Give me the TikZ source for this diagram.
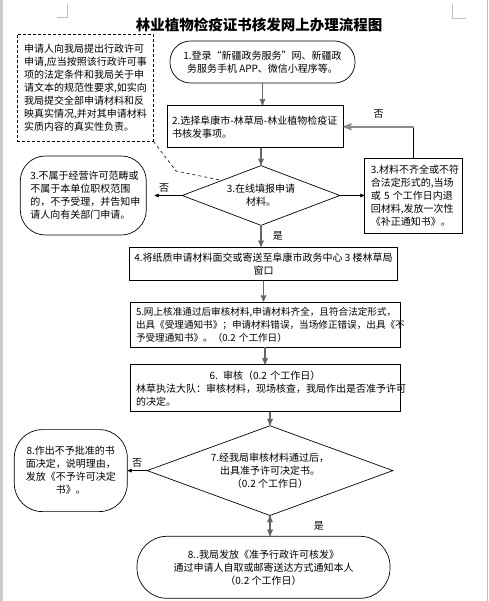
\documentclass[tikz,border=0pt]{standalone}
\usepackage{fontspec}
\setmainfont{Noto Sans CJK SC}
\usetikzlibrary{arrows, positioning, shapes.geometric}

\begin{document}
\begin{tikzpicture}[x=1pt, y=-1pt, >=stealth', auto,
    font=\fontsize{10}{13}\selectfont,
    box/.style={draw, line width=0.8pt, rectangle, inner xsep=5pt, inner ysep=2pt, align=left},
    roundbox/.style={draw, line width=0.7pt, rectangle, inner sep=2pt, align=center},
    check/.style={draw, line width=0.7pt, diamond, inner sep=0pt, align=center},
    note/.style={draw, densely dashed, line width=0.9pt, rectangle, inner xsep=7pt, inner ysep=2pt, align=left},
    flow/.style={->, draw=black!60, line width=1.3pt},
    link/.style={->, line width=0.6pt}]

    \useasboundingbox (0,0) rectangle (488,601);

    %define the page edges
    \fill[black!20] (0,0) rectangle (2.5,601);
    \draw[black!25] (487,0) -- (487,601);
    \draw[black!25] (67,4) -- (67,17) -- (57,17);
    \draw[black!25] (452,4) -- (452,18) -- (466,18);

    %define the title and the steps
    \node[font=\fontsize{14.5}{16}\selectfont\bfseries] (title) at (259,25) {林业植物检疫证书核发网上办理流程图};
    \node[note, text width=122pt, minimum height=107pt] (req) at (85,87.5) {申请人向我局提出行政许可\\申请,应当按照该行政许可事\\项的法定条件和我局关于申\\请文本的规范性要求,如实向\\我局提交全部申请材料和反\\映真实情况,并对其申请材料\\实质内容的真实性负责。};
    \node[roundbox, rounded corners=20.5pt, minimum width=185pt, minimum height=42pt] (b1) at (262.5,62) {1.登录“新疆政务服务”网、新疆政\\务服务手机 APP、微信小程序等。};
    \node[box, text width=166pt, minimum height=42pt] (b2) [below=22pt of b1, xshift=-7.5pt] {2.选择阜康市-林草局-林业植物检疫证\\书核发事项。};
    \node[check, minimum width=158pt, minimum height=60pt, aspect=2.6] (d3) [below=17pt of b2, xshift=6pt] {3.在线填报申请\\材料。};
    \node[box, text width=86pt, minimum height=75pt, inner xsep=6pt] (b3r) [right=24pt of d3] {3.材料不齐全或不符\\合法定形式的,当场\\或~5~个工作日内退\\回材料,发放一次性\\《补正通知书》。};
    \node[roundbox, rounded corners=25pt, text width=106pt, minimum height=79pt, inner xsep=10pt, align=left] (b3l) [left=35pt of d3] {3.不属于经营许可范畴或\\不属于本单位职权范围\\的，不予受理，并告知申\\请人向有关部门申请。};
    \node[box, minimum width=262pt, minimum height=33pt, align=center] (b4) [below=21pt of d3, xshift=2.5pt] {4.将纸质申请材料面交或寄送至阜康市政务中心 3 楼林草局\\窗口};
    \node[box, text width=258pt, minimum height=45pt, inner xsep=6pt, font=\fontsize{9.6}{13}\selectfont] (b5) [below=21pt of b4, xshift=1.5pt] {5.网上核准通过后审核材料,申请材料齐全，且符合法定形式，\\出具《受理通知书》；申请材料错误，当场修正错误，出具《不\\予受理通知书》。（0.2~个工作日）};
    \node[box, text width=258pt, minimum height=47pt, inner xsep=6pt] (b6) [below=17pt of b5] {\makebox[\linewidth]{6. 审核（0.2 个工作日）}\\林草执法大队：审核材料，现场核查，我局作出是否准予许可\\的决定。};
    \node[check, minimum width=246pt, minimum height=90pt, aspect=2.7] (d7) [below=13pt of b6, xshift=5pt] {7.经我局审核材料通过后，\\出具准予许可决定书。\\（0.2 个工作日）};
    \node[roundbox, rounded corners=28pt, text width=105pt, minimum height=82pt, inner xsep=4pt] (b8l) [left=19pt of d7] {8.作出不予批准的书\\面决定，说明理由，\\发放《不予许可决定\\书》。};
    \node[roundbox, rounded corners=30pt, minimum width=253pt, minimum height=62pt] (b9) [below=20pt of d7, xshift=-6.5pt] {8..我局发放《准予行政许可核发》\\通过申请人自取或邮寄送达方式通知本人\\（0.2 个工作日）};

    %define the links
    \path[flow] (b1.south) edge (b1.south |- b2.north)
    (b2.south -| d3.north) edge (d3.north)
    (d3.south) edge node[right, xshift=8pt] {是} (d3.south |- b4.north)
    (b4.south) edge (b4.south |- b5.north)
    (b5.south) edge (b5.south |- b6.north)
    (b6.south -| d7.north) edge (d7.north)
    (d7.south) edge node[right, xshift=40pt] {是} (d7.south |- b9.north);
    \path[link] (d3.east) edge (d3.east -| b3r.west)
    (d3.west) edge[shorten >=8pt] node[above] {否} (d3.west -| b3l.east)
    (d7.west) edge node[above] {否} (d7.west -| b8l.east);

    \coordinate (c3) at (b3r.north |- b2.east);
    \draw[line width=0.6pt] (b3r.north) -- (c3);
    \draw[flow, draw=black!45, line width=1.8pt] (c3) -- node[above, yshift=4pt] {否} (b2.east);

    \coordinate (k1) at (176,171);
    \draw[dashed, line width=0.6pt] (req.south east) -- (k1) -- (d3.north west);
\end{tikzpicture}
\end{document}
